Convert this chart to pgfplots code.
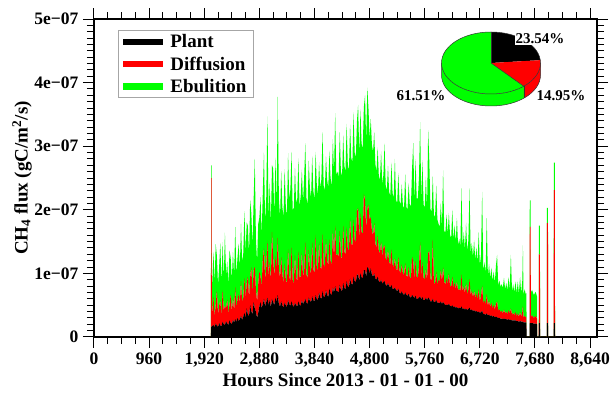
\documentclass[border=0pt]{standalone}
\usepackage{pgfplots}
\pgfplotsset{compat=1.18}
\usepackage{pgfplotstable}
\usepackage{fontspec}
\setmainfont{Liberation Serif}
\definecolor{pgreen}{RGB}{0,255,0}
\definecolor{pred}{RGB}{255,0,0}
\pgfplotstableread{
h P D E
2036 0 0 0
2040 0.16 2.34 0.20
2047 0.16 2.34 0.20
2052 0.17 0.25 0.40
2060 0.17 0.22 0.48
2080 0.19 0.45 0.70
2100 0.15 0.18 0.52
2120 0.21 0.30 0.95
2140 0.18 0.55 0.55
2160 0.16 0.20 0.45
2180 0.22 0.28 0.62
2200 0.18 0.40 0.90
2220 0.17 0.16 0.50
2240 0.24 0.50 0.75
2260 0.20 0.22 0.48
2280 0.19 0.30 1.15
2300 0.25 0.20 0.52
2320 0.21 0.38 0.60
2340 0.19 0.18 0.45
2360 0.26 0.25 0.85
2380 0.22 0.45 0.58
2400 0.20 0.20 0.50
2420 0.27 0.35 0.72
2440 0.23 0.18 0.55
2460 0.28 0.50 0.95
2480 0.24 0.22 0.52
2500 0.30 0.30 0.66
2520 0.25 0.42 0.80
2540 0.28 0.25 0.55
2560 0.33 0.55 0.90
2580 0.27 0.28 0.62
2600 0.32 0.30 0.70
2620 0.38 0.55 1.05
2640 0.30 0.32 0.72
2660 0.45 0.40 0.95
2680 0.35 0.60 0.80
2700 0.33 0.28 0.68
2720 0.50 0.45 1.20
2740 0.40 0.70 0.85
2760 0.36 0.32 0.75
2780 0.55 0.50 1.10
2800 0.45 0.65 1.70
2820 0.40 0.35 0.80
2840 0.30 0.25 0.62
2860 0.38 0.45 0.95
2880 0.48 0.55 0.85
2900 0.55 0.40 1.25
2920 0.45 0.35 0.80
2940 0.52 0.70 1.05
2960 0.60 0.80 1.50
2980 0.48 0.42 0.90
3000 0.55 0.55 1.10
3020 0.62 0.90 1.95
3040 0.50 0.45 0.95
3060 0.58 0.60 1.25
3080 0.47 0.40 0.90
3100 0.60 1.05 1.05
3120 0.55 0.70 1.40
3140 0.50 0.45 0.95
3160 0.62 0.65 1.55
3180 0.55 0.50 1.00
3200 0.66 0.90 2.22
3220 0.52 0.55 1.10
3240 0.48 0.45 0.95
3260 0.56 0.70 1.35
3280 0.50 0.50 1.05
3300 0.46 0.38 1.05
3320 0.54 0.62 1.48
3340 0.50 0.42 1.15
3360 0.47 0.36 1.07
3380 0.58 0.80 1.51
3400 0.52 0.44 1.21
3420 0.49 0.38 1.45
3440 0.56 0.85 1.50
3460 0.50 0.40 1.10
3480 0.47 0.36 1.20
3500 0.54 0.75 1.37
3520 0.50 0.44 1.16
3540 0.48 0.40 1.30
3560 0.56 0.80 1.45
3580 0.51 0.42 1.12
3600 0.49 0.46 1.27
3620 0.58 0.75 1.30
3640 0.52 0.44 1.16
3660 0.55 0.48 1.47
3680 0.60 0.90 1.55
3700 0.54 0.44 1.21
3720 0.52 0.40 1.15
3740 0.62 0.75 1.40
3760 0.57 0.50 1.27
3780 0.55 0.44 1.19
3800 0.64 0.85 1.35
3820 0.58 0.48 1.24
3840 0.56 0.45 1.16
3860 0.66 0.95 1.30
3880 0.60 0.50 1.30
3900 0.58 0.46 1.20
3920 0.70 0.80 1.25
3940 0.62 0.48 1.24
3960 0.60 0.46 1.42
3980 0.72 0.90 1.60
4000 0.64 0.50 1.24
4020 0.62 0.48 1.20
4040 0.74 0.80 1.30
4060 0.66 0.54 1.27
4080 0.63 0.50 1.22
4100 0.76 0.78 1.39
4120 0.68 0.52 1.30
4140 0.66 0.48 1.24
4160 0.78 0.90 1.43
4180 0.70 0.54 1.32
4200 0.80 0.95 1.77
4220 0.72 0.56 1.26
4240 0.72 0.58 1.30
4260 0.70 0.56 1.24
4280 0.82 0.85 1.55
4300 0.74 0.53 1.33
4320 0.72 0.51 1.30
4340 0.85 0.90 1.42
4360 0.77 0.57 1.35
4380 0.75 0.55 1.31
4400 0.88 0.85 1.62
4420 0.80 0.59 1.33
4440 0.78 0.57 1.27
4460 0.92 0.95 1.47
4480 0.84 0.63 1.35
4500 0.82 0.61 1.31
4520 0.95 0.90 1.68
4540 0.88 0.65 1.37
4560 0.86 0.63 1.33
4580 0.98 1.00 1.42
4600 0.98 1.05 1.62
4620 0.88 0.65 1.31
4640 1.00 0.95 1.63
4660 0.94 0.71 1.39
4680 0.92 0.70 1.35
4700 1.05 1.20 1.36
4720 1.05 1.10 1.65
4740 0.95 0.75 1.37
4760 1.10 0.92 1.90
4780 1.08 1.00 1.52
4800 1.00 0.85 1.27
4820 1.08 0.80 1.55
4840 0.98 0.69 1.35
4860 0.95 0.65 1.31
4880 1.00 0.80 1.42
4900 0.92 0.55 1.25
4920 0.90 0.50 1.20
4940 0.95 0.65 1.38
4960 0.88 0.48 1.18
4980 0.86 0.46 1.15
5000 0.90 0.60 1.42
5020 0.84 0.42 1.14
5040 0.86 0.55 1.14
5060 0.88 0.56 1.60
5080 0.82 0.42 1.15
5100 0.80 0.40 1.10
5120 0.85 0.52 1.32
5140 0.80 0.38 1.10
5160 0.78 0.36 1.08
5180 0.82 0.56 1.36
5200 0.76 0.38 1.12
5220 0.75 0.35 1.10
5240 0.78 0.46 1.56
5260 0.74 0.34 1.08
5280 0.72 0.32 1.06
5300 0.76 0.50 1.32
5320 0.70 0.34 1.10
5340 0.68 0.32 1.08
5360 0.72 0.42 1.26
5380 0.68 0.32 1.06
5400 0.66 0.32 1.05
5420 0.70 0.46 1.40
5440 0.66 0.30 1.08
5460 0.65 0.30 1.06
5480 0.68 0.42 1.32
5500 0.63 0.31 1.13
5520 0.62 0.30 1.15
5540 0.66 0.60 1.40
5560 0.64 0.55 1.86
5580 0.61 0.30 1.20
5600 0.65 0.55 1.60
5620 0.60 0.35 1.23
5640 0.60 0.33 1.25
5660 0.62 0.50 1.40
5680 0.64 0.85 1.89
5700 0.59 0.37 1.17
5720 0.63 0.55 1.60
5740 0.58 0.35 1.15
5760 0.58 0.33 1.13
5780 0.62 0.45 1.45
5800 0.58 0.31 1.11
5820 0.62 0.70 1.93
5840 0.60 0.75 1.40
5860 0.56 0.35 1.10
5880 0.56 0.33 1.08
5900 0.60 0.93 1.00
5920 0.55 0.30 1.07
5940 0.55 0.29 1.05
5960 0.58 0.45 1.35
5980 0.54 0.28 1.03
6000 0.54 0.36 0.88
6020 0.53 0.35 0.85
6040 0.56 0.50 1.05
6060 0.52 0.36 0.84
6080 0.55 0.55 1.52
6100 0.52 0.34 0.80
6120 0.50 0.33 0.82
6140 0.51 0.42 1.00
6160 0.50 0.33 0.78
6180 0.52 0.48 0.95
6200 0.49 0.32 0.80
6220 0.48 0.31 0.76
6240 0.50 0.45 1.05
6260 0.47 0.30 0.75
6280 0.48 0.38 0.90
6300 0.46 0.29 0.74
6320 0.47 0.40 1.00
6340 0.45 0.28 0.72
6360 0.46 0.30 0.78
6380 0.45 0.27 0.70
6400 0.48 0.50 1.36
6420 0.44 0.27 0.70
6440 0.45 0.35 0.85
6460 0.43 0.26 0.68
6480 0.45 0.40 0.95
6500 0.42 0.25 0.68
6520 0.44 0.30 0.78
6540 0.46 0.45 1.43
6560 0.42 0.24 0.64
6580 0.43 0.30 0.75
6600 0.41 0.22 0.62
6620 0.42 0.30 0.80
6640 0.40 0.21 0.60
6660 0.41 0.28 0.72
6680 0.39 0.20 0.58
6700 0.40 0.35 0.90
6720 0.38 0.19 0.55
6740 0.39 0.25 0.65
6760 0.41 0.40 1.47
6780 0.36 0.17 0.50
6800 0.36 0.22 0.60
6820 0.35 0.16 0.48
6840 0.37 0.30 1.20
6860 0.34 0.15 0.45
6880 0.35 0.22 0.58
6900 0.33 0.14 0.45
6920 0.34 0.20 0.55
6940 0.32 0.13 0.43
6960 0.33 0.18 0.52
6980 0.31 0.12 0.42
7000 0.32 0.20 0.60
7020 0.31 0.25 0.73
7040 0.30 0.11 0.40
7060 0.30 0.14 0.45
7080 0.29 0.10 0.40
7100 0.29 0.12 0.42
7120 0.28 0.09 0.40
7140 0.29 0.14 0.50
7160 0.28 0.09 0.38
7180 0.28 0.12 0.45
7200 0.27 0.09 0.38
7220 0.28 0.14 0.52
7240 0.27 0.10 0.37
7260 0.27 0.18 0.84
7280 0.26 0.09 0.37
7300 0.26 0.12 0.45
7320 0.26 0.08 0.36
7340 0.26 0.13 0.48
7360 0.25 0.08 0.36
7380 0.25 0.12 0.50
7400 0.24 0.08 0.36
7420 0.25 0.14 0.55
7440 0.24 0.08 0.36
7460 0.24 0.16 0.50
7470 0.24 0.25 0.95
7480 0.23 0.08 0.36
7500 0.23 0.10 0.42
7520 0.23 0.08 0.36
7530 0.22 0.09 0.38
7535 0 0 0
7585 0 0 0
7589 0.22 1.51 0.42
7604 0.22 1.51 0.42
7608 0.22 0.10 0.38
7630 0.22 0.12 0.40
7660 0.21 0.09 0.36
7690 0.21 0.12 0.38
7715 0.20 0.09 0.35
7719 0 0 0
7745 0 0 0
7748 0.22 1.08 0.45
7766 0.22 1.08 0.45
7769 0 0 0
7885 0 0 0
7888 0.22 1.57 0.24
7906 0.22 1.57 0.24
7909 0 0 0
8005 0 0 0
8008 0.22 2.09 0.43
8026 0.22 2.09 0.43
8029 0 0 0
}\fluxdata
\begin{document}
\begin{tikzpicture}
\begin{axis}[
  scale only axis, width=503pt, height=318pt,
  xmin=0, xmax=8760, ymin=0, ymax=5,
  stack plots=y,
  axis line style={line width=1.1pt},
  every tick/.style={black, line width=1pt},
  tick align=outside,
  xtick pos=both, ytick pos=both,
  xticklabel pos=lower, yticklabel pos=left,
  major tick length=11pt, minor tick length=7pt,
  xtick={0,960,...,8640},
  xticklabels={0,960,{1,920},{2,880},{3,840},{4,800},{5,760},{6,720},{7,680},{8,640}},
  minor x tick num=3,
  ytick={0,1,2,3,4,5},
  yticklabels={0,1e−07,2e−07,3e−07,4e−07,5e−07},
  minor y tick num=9,
  ticklabel style={font=\fontsize{17.5}{20}\selectfont\bfseries},
  xticklabel style={yshift=-1pt},
  yticklabel style={xshift=-1pt},
  xlabel={Hours Since 2013 - 01 - 01 - 00},
  ylabel={CH\textsubscript{4} flux (gC/m\textsuperscript{2}/s)},
  label style={font=\fontsize{19}{22}\selectfont\bfseries},
  xlabel style={at={(axis description cs:0.5,-0.135)}, anchor=center},
  ylabel style={at={(axis description cs:-0.143,0.5)}, anchor=center},
  legend style={at={(axis description cs:0.0477,0.965)}, anchor=north west,
    draw=gray!70, line width=0.8pt, fill=white,
    font=\fontsize{19}{22}\selectfont\bfseries,
    inner xsep=5pt, inner ysep=2pt, row sep=3.5pt,
    nodes={inner sep=2pt}},
  legend cell align=left,
  legend image code/.code={\fill[#1] (0pt,-3.2pt) rectangle (40pt,3.2pt); \path (45pt,0pt);},
]
\addplot[fill=black, draw=none] table[x=h, y=P] {\fluxdata} \closedcycle;
\addlegendentry{Plant}
\addplot[fill=pred, draw=none] table[x=h, y=D] {\fluxdata} \closedcycle;
\addlegendentry{Diffusion}
\addplot[fill=pgreen, draw=none] table[x=h, y=E] {\fluxdata} \closedcycle;
\addlegendentry{Ebulition}
\end{axis}
% inset pie chart of the shares
\def\pA{23.54}\def\pB{14.95}\def\pC{61.51}
\pgfmathsetmacro{\aone}{90-3.6*\pA}
\pgfmathsetmacro{\atwo}{\aone-3.6*\pB}
\pgfmathsetmacro{\atwop}{\atwo+360}
\coordinate (C) at (397pt,274pt);
\begin{scope}[line width=0.5pt]
% side walls
\fill[pgreen] (C) ++(180:49.5pt and 31pt) arc[start angle=180, end angle=\atwop, x radius=49.5pt, y radius=31pt]
  -- ++(0,-12pt) arc[start angle=\atwop, end angle=180, x radius=49.5pt, y radius=31pt] -- cycle;
\fill[pred] (C) ++(\atwop:49.5pt and 31pt) arc[start angle=\atwop, end angle=360, x radius=49.5pt, y radius=31pt]
  -- ++(0,-12pt) arc[start angle=360, end angle=\atwop, x radius=49.5pt, y radius=31pt] -- cycle;
\draw[black!80] (C) ++(180:49.5pt and 31pt) -- ++(0,-12pt) arc[start angle=180, end angle=360, x radius=49.5pt, y radius=31pt] -- ++(0,12pt);
\draw[black!80] (C) ++(\atwop:49.5pt and 31pt) -- ++(0,-12pt);
% top face
\fill[black] (C) -- ++(90:49.5pt and 31pt) arc[start angle=90, end angle=\aone, x radius=49.5pt, y radius=31pt] -- cycle;
\fill[pred] (C) -- ++(\aone:49.5pt and 31pt) arc[start angle=\aone, end angle=\atwo, x radius=49.5pt, y radius=31pt] -- cycle;
\fill[pgreen] (C) -- ++(\atwo:49.5pt and 31pt) arc[start angle=\atwo, end angle=-270, x radius=49.5pt, y radius=31pt] -- cycle;
\draw[black!80] (C) ellipse[x radius=49.5pt, y radius=31pt];
\draw[black!80] (C) -- ++(\atwo:49.5pt and 31pt);
\draw[black!80] (C) -- ++(90:49.5pt and 31pt);
\end{scope}
\begin{scope}[every node/.style={font=\fontsize{15}{18}\selectfont\bfseries, inner sep=1pt, fill=white}]
\node at (446pt,298pt) {\pA\%};
\node at (467pt,241pt) {\pB\%};
\node at (327pt,241pt) {\pC\%};
\end{scope}
\pgfresetboundingbox
\useasboundingbox (-94pt,-59pt) rectangle (517pt,337pt);
\end{tikzpicture}
\end{document}
